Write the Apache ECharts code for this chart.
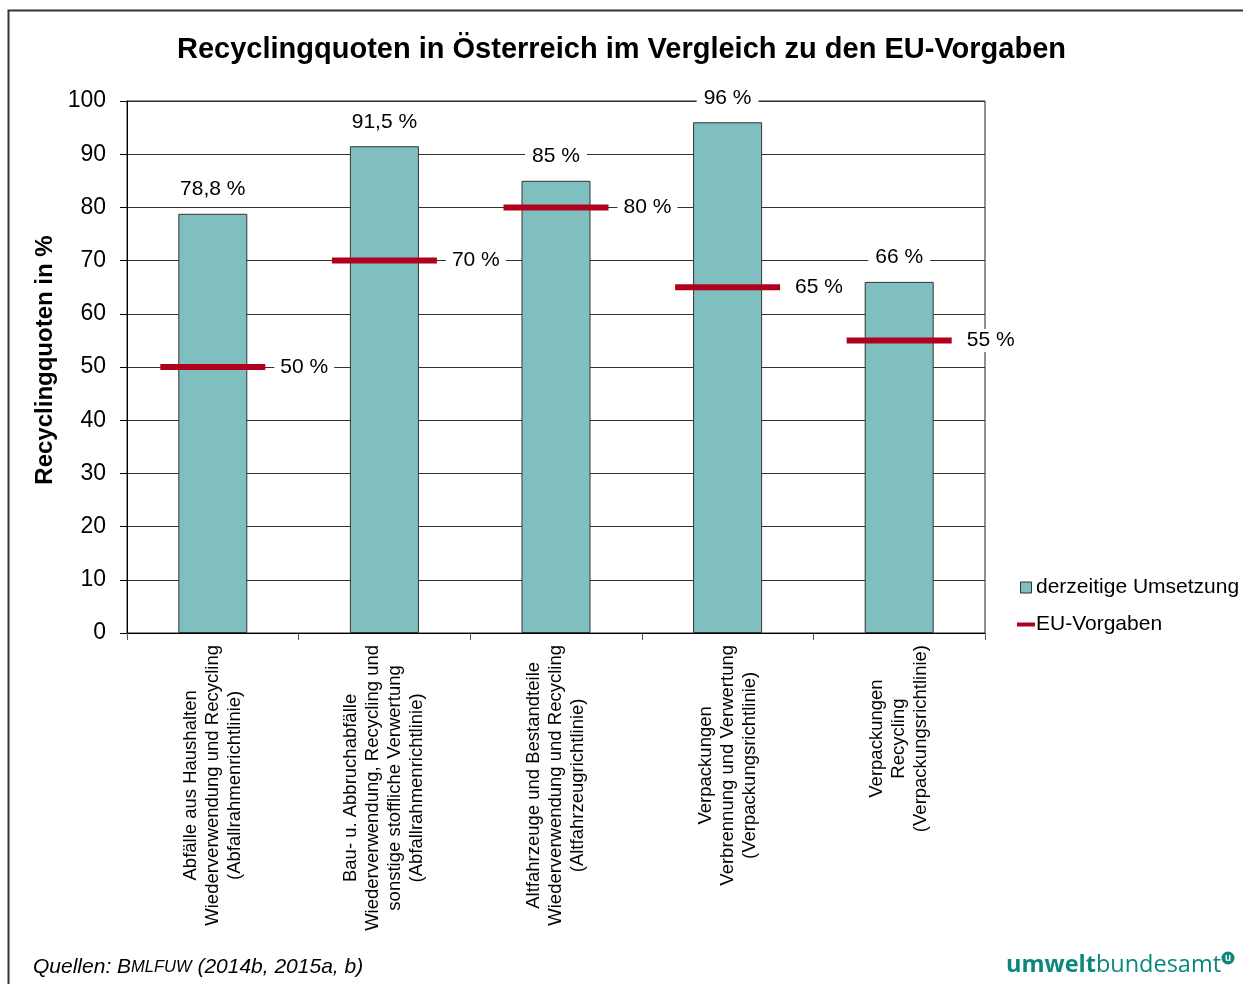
<!DOCTYPE html>
<html>
<head>
<meta charset="utf-8">
<script src="https://cdn.jsdelivr.net/npm/echarts@6/dist/echarts.min.js"></script>
<style>
  html, body { margin: 0; padding: 0; background: #fff; }
  #chart { width: 1243px; height: 984px; }
</style>
</head>
<body>
<div id="chart"></div>
<script>
// Waste streams (category labels, one line per \n)
const categories = [
  'Abfälle aus Haushalten\nWiederverwendung und Recycling\n(Abfallrahmenrichtlinie)',
  'Bau- u. Abbruchabfälle\nWiederverwendung, Recycling und\nsonstige stoffliche Verwertung\n(Abfallrahmenrichtlinie)',
  'Altfahrzeuge und Bestandteile\nWiederverwendung und Recycling\n(Altfahrzeugrichtlinie)',
  'Verpackungen\nVerbrennung und Verwertung\n(Verpackungsrichtlinie)',
  'Verpackungen\nRecycling\n(Verpackungsrichtlinie)'
];
// Current rates in Austria (%)
const currentRates = [78.8, 91.5, 85, 96, 66];
// EU targets (%)
const euTargets = [50, 70, 80, 65, 55];
// Y axis ticks
const yMin = 0, yMax = 100, yStep = 10;

const FONT = '"Liberation Sans", Arial, sans-serif';
const TEAL_BAR = '#80bfbf';
const RED = '#b0001e';
const LOGO = '#0b877c';

const fmtPct = v => String(v).replace('.', ',') + ' %';

const chart = echarts.init(document.getElementById('chart'), null, { renderer: 'canvas' });

chart.setOption({
  backgroundColor: '#fff',
  animation: false,
  textStyle: { fontFamily: FONT, color: '#000' },
  title: {
    text: 'Recyclingquoten in Österreich im Vergleich zu den EU-Vorgaben',
    left: 'center',
    top: 30,
    textStyle: { fontFamily: FONT, fontSize: 29, fontWeight: 'bold', color: '#000' }
  },
  grid: {
    left: 127, right: 258, top: 101, bottom: 351,
    show: true, borderColor: '#222', borderWidth: 1, backgroundColor: 'transparent'
  },
  legend: {
    orient: 'vertical',
    left: 1012,
    top: 572,
    itemWidth: 18,
    itemHeight: 11,
    itemGap: 16,
    symbolKeepAspect: true,
    textStyle: { fontFamily: FONT, fontSize: 21, color: '#000', padding: [0, 0, 0, -4] },
    data: [
      { name: 'derzeitige Umsetzung', icon: 'path://M7,0H18V11H7Z',
        itemStyle: { color: TEAL_BAR, borderColor: '#333', borderWidth: 1 } },
      { name: 'EU-Vorgaben', icon: 'path://M0,0H18V4H0Z',
        itemStyle: { color: RED } }
    ]
  },
  xAxis: {
    type: 'category',
    data: categories,
    boundaryGap: true,
    axisLine: { show: true, lineStyle: { color: '#000', width: 1 } },
    axisTick: { show: true, interval: 0, length: 7, lineStyle: { color: '#555' } },
    axisLabel: {
      interval: 0,
      rotate: 90,
      margin: 12,
      fontFamily: FONT,
      fontSize: 18.5,
      color: '#000',
      formatter: v => v.split('\n').map(l => '{c|' + l + '}').join('\n'),
      rich: { c: { align: 'center', fontFamily: FONT, fontSize: 18.5, lineHeight: 22, color: '#000' } }
    },
    splitLine: { show: false }
  },
  yAxis: {
    type: 'value',
    min: yMin, max: yMax, interval: yStep,
    axisLine: { show: true, lineStyle: { color: '#000', width: 1 } },
    axisTick: { show: true, inside: false, length: 7, lineStyle: { color: '#000' } },
    axisLabel: { margin: 21, fontFamily: FONT, fontSize: 23, color: '#000', padding: [4, 0, 0, 0] },
    splitLine: { show: true, lineStyle: { color: '#333', width: 1 } }
  },
  series: [
    {
      name: 'derzeitige Umsetzung',
      type: 'bar',
      data: currentRates,
      barWidth: 69,
      itemStyle: { color: TEAL_BAR, borderColor: '#333', borderWidth: 1 },
      label: {
        show: true,
        position: 'top',
        distance: 13,
        formatter: p => fmtPct(p.value),
        fontFamily: FONT,
        fontSize: 21,
        color: '#000',
        backgroundColor: '#fff',
        padding: [1, 7]
      },
      z: 2
    },
    {
      name: 'EU-Vorgaben',
      type: 'scatter',
      data: euTargets,
      symbol: 'rect',
      symbolSize: [105, 6],
      itemStyle: { color: RED, opacity: 1 },
      label: {
        show: true,
        position: 'right',
        distance: 9,
        formatter: p => fmtPct(p.value),
        fontFamily: FONT,
        fontSize: 21,
        color: '#000',
        backgroundColor: '#fff',
        padding: [1, 6]
      },
      z: 5
    }
  ],
  graphic: [
    {
      type: 'polyline',
      shape: { points: [[8.5, 984], [8.5, 10.5], [1243, 10.5]] },
      style: { stroke: '#333', lineWidth: 2, fill: null },
      silent: true
    },
    {
      // y axis title
      type: 'text',
      x: 45, y: 360,
      rotation: Math.PI / 2,
      style: {
        text: 'Recyclingquoten in %',
        align: 'center', verticalAlign: 'middle',
        fontFamily: FONT, fontSize: 24, fontWeight: 'bold', fill: '#000'
      }
    },
    {
      type: 'text',
      left: 33,
      top: 957,
      style: {
        text: '{a|Quellen: B}{b|MLFUW}{a| (2014b, 2015a, b)}',
        rich: {
          a: { fontFamily: FONT, fontSize: 21, fontStyle: 'italic', fill: '#000' },
          b: { fontFamily: FONT, fontSize: 16.5, fontStyle: 'italic', fill: '#000' }
        }
      }
    },
    {
      type: 'text',
      left: 1006,
      top: 953,
      style: {
        text: '{a|umwelt}{b|bundesamt}',
        rich: {
          a: { fontFamily: '"Open Sans", "DejaVu Sans", sans-serif', fontSize: 23.5, fontWeight: 'bold', fill: LOGO },
          b: { fontFamily: '"Open Sans", "DejaVu Sans", sans-serif', fontSize: 23.5, fill: LOGO }
        }
      }
    },
    {
      type: 'circle',
      shape: { cx: 1228, cy: 958, r: 6.5 },
      style: { fill: LOGO }
    },
    {
      type: 'text',
      x: 1228, y: 958,
      style: {
        text: 'u', fill: '#fff', align: 'center', verticalAlign: 'middle',
        fontFamily: FONT, fontSize: 10, fontWeight: 'bold'
      }
    }
  ]
});
</script>
</body>
</html>
